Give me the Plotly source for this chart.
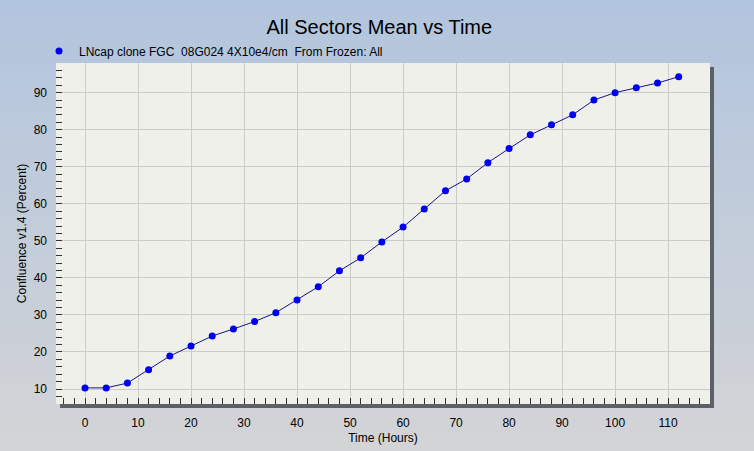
import plotly.graph_objects as go

# time points (hours) and mean confluence (%)
hours = [0, 4, 8, 12, 16, 20, 24, 28, 32, 36, 40, 44, 48, 52, 56,
         60, 64, 68, 72, 76, 80, 84, 88, 92, 96, 100, 104, 108, 112]
confluence = [10.3, 10.3, 11.6, 15.2, 18.9, 21.6, 24.3, 26.2, 28.2, 30.6, 34.0, 37.6, 41.9, 45.4, 49.7,
              53.7, 58.6, 63.5, 66.7, 71.1, 74.9, 78.6, 81.3, 84.0, 88.0, 90.0, 91.3, 92.6, 94.3]
series_name = "LNcap clone FGC  08G024 4X10e4/cm  From Frozen: All"

W, H = 754, 451
L, R, T, B = 56, 710, 63, 404  # plot area in pixels
pw, ph = R - L, B - T


def px(x):
    return (x - L) / pw


def py(y):
    return (B - y) / ph


shapes = []
# background gradient (steel blue at top -> light gray at bottom)
top_c = (178, 197, 222)
bot_c = (211, 212, 214)
n = 60
for i in range(n):
    f = i / (n - 1)
    c = tuple(round(top_c[k] + (bot_c[k] - top_c[k]) * f) for k in range(3))
    y0 = H * i / n
    y1 = H * (i + 1) / n + 1
    shapes.append(dict(type="rect", xref="paper", yref="paper",
                       x0=px(0), x1=px(W), y0=py(y1), y1=py(y0),
                       fillcolor="rgb(%d,%d,%d)" % c, line_width=0, layer="below"))
# drop shadow
shadow = "#5c6168"
shapes.append(dict(type="rect", xref="paper", yref="paper",
                   x0=px(R), x1=px(R + 4), y0=py(B + 4), y1=py(T + 4),
                   fillcolor=shadow, line_width=0, layer="below"))
shapes.append(dict(type="rect", xref="paper", yref="paper",
                   x0=px(L + 4), x1=px(R + 4), y0=py(B + 4), y1=py(B),
                   fillcolor=shadow, line_width=0, layer="below"))
# plot area
shapes.append(dict(type="rect", xref="paper", yref="paper",
                   x0=0, x1=1, y0=0, y1=1,
                   fillcolor="#f0f0ea", line_width=0, layer="below"))

fig = go.Figure()
fig.add_trace(go.Scatter(
    x=hours, y=confluence, mode="lines+markers", name=series_name,
    line=dict(color="#14148c", width=1),
    marker=dict(color="#0000f0", size=7, symbol="circle"),
    showlegend=False,
))
# legend entry (marker only)
fig.add_trace(go.Scatter(
    x=[None], y=[None], mode="markers", name=series_name,
    marker=dict(color="#0000f0", size=7, symbol="circle"),
))

font = "Liberation Sans, Arial, sans-serif"
fig.update_layout(
    width=W, height=H,
    margin=dict(l=L, r=W - R, t=T, b=H - B, pad=0, autoexpand=False),
    paper_bgcolor="rgb(195,204,218)",
    plot_bgcolor="#f0f0ea",
    font=dict(family=font, size=12, color="#000000"),
    title=dict(text="All Sectors Mean vs Time", x=px(385), xanchor="center",
               y=1 - 27 / H, yanchor="middle",
               font=dict(size=20, color="#000000")),
    showlegend=True,
    legend=dict(x=px(39), xanchor="left", y=py(51), yanchor="middle",
                bgcolor="rgba(0,0,0,0)", borderwidth=0,
                font=dict(size=12, color="#000000")),
    shapes=shapes,
)
fig.update_xaxes(
    range=[-5.47, 117.9], tick0=0, dtick=10,
    showgrid=True, gridcolor="#cccccc", gridwidth=1,
    zeroline=False, showline=False, automargin=False,
    ticks="inside", ticklen=6, tickcolor="#333333",
    minor=dict(dtick=2, ticks="inside", ticklen=6, tickcolor="#333333", showgrid=False),
    ticklabelstandoff=10,
    title=dict(text="Time (Hours)", standoff=4, font=dict(size=12)),
)
fig.update_yaxes(
    range=[5.95, 98.0], tick0=0, dtick=10,
    showgrid=True, gridcolor="#cccccc", gridwidth=1,
    zeroline=False, showline=False, automargin=False,
    ticks="inside", ticklen=6, tickcolor="#333333",
    minor=dict(dtick=2, ticks="inside", ticklen=6, tickcolor="#333333", showgrid=False),
    ticklabelstandoff=8,
    title=dict(text="Confluence v1.4 (Percent)", standoff=4, font=dict(size=12)),
)

fig.write_html("out.html", config={"displayModeBar": False},
               post_script="document.body.style.margin='0';")
